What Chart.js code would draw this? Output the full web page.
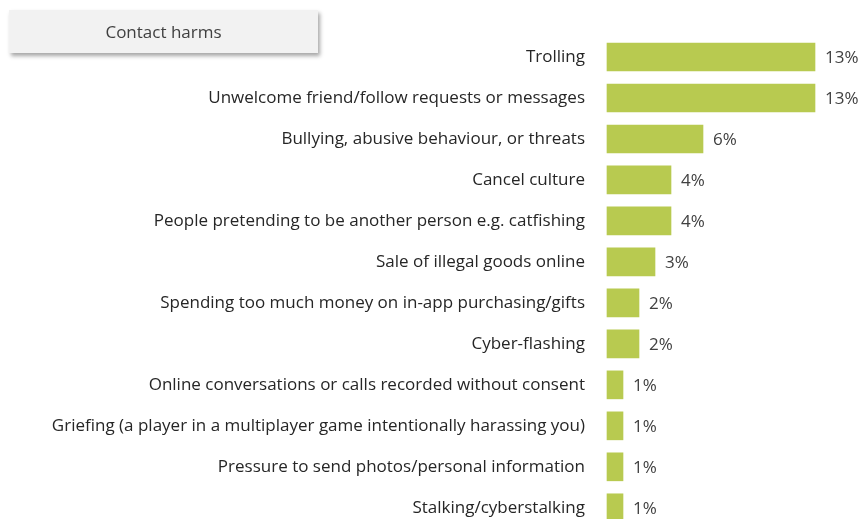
<!DOCTYPE html>
<html>
<head>
<meta charset="utf-8">
<script src="https://cdn.jsdelivr.net/npm/chart.js@4"></script>
<style>
  html, body { margin: 0; padding: 0; background: #fff; overflow: hidden; }
  #wrap { position: relative; width: 863px; height: 519px; overflow: hidden; }
  #tag {
    position: absolute; left: 9px; top: 10px; width: 309px; height: 43px;
    background: #f2f2f2; box-shadow: 2px 3px 4px rgba(0,0,0,0.35);
    font-family: 'Open Sans', sans-serif; font-size: 17px; color: #404040;
    display: flex; align-items: center; justify-content: center; z-index: 2;
  }
</style>
</head>
<body>
<div id="wrap">
  <div id="tag">Contact harms</div>
  <canvas id="chart" width="863" height="532"></canvas>
</div>
<script>
const categories = [
    'Trolling',
    'Unwelcome friend/follow requests or messages',
    'Bullying, abusive behaviour, or threats',
    'Cancel culture',
    'People pretending to be another person e.g. catfishing',
    'Sale of illegal goods online',
    'Spending too much money on in-app purchasing/gifts',
    'Cyber-flashing',
    'Online conversations or calls recorded without consent',
    'Griefing (a player in a multiplayer game intentionally harassing you)',
    'Pressure to send photos/personal information',
    'Stalking/cyberstalking'
];
const values = [13, 13, 6, 4, 4, 3, 2, 2, 1, 1, 1, 1];
const valueLabels = ['13%', '13%', '6%', '4%', '4%', '3%', '2%', '2%', '1%', '1%', '1%', '1%'];

const fontFamily = "'Open Sans', sans-serif";

// draws the % next to every bar
const valueLabelPlugin = {
    id: 'valueLabels',
    afterDatasetsDraw(chart) {
        const ctx = chart.ctx;
        const meta = chart.getDatasetMeta(0);
        ctx.save();
        ctx.font = '17px ' + fontFamily;
        ctx.fillStyle = '#404040';
        ctx.textAlign = 'left';
        ctx.textBaseline = 'middle';
        meta.data.forEach(function (bar, i) {
            ctx.fillText(valueLabels[i], bar.x + 10, bar.y + 1);
        });
        ctx.restore();
    }
};

new Chart(document.getElementById('chart').getContext('2d'), {
    type: 'bar',
    data: {
        labels: categories,
        datasets: [{
            data: values,
            backgroundColor: '#b8ca50',
            barThickness: 28,
            clip: false
        }]
    },
    options: {
        indexAxis: 'y',
        responsive: false,
        animation: false,
        layout: { padding: { top: 57, bottom: 0, left: 0, right: 0 } },
        plugins: {
            legend: { display: false },
            tooltip: { enabled: false }
        },
        scales: {
            x: {
                display: false,
                min: 0,
                max: 16
            },
            y: {
                offset: false,
                grid: { display: false },
                border: { display: false },
                ticks: {
                    padding: 14,
                    color: '#262626',
                    font: { family: fontFamily, size: 17 }
                },
                afterFit: function (scale) {
                    scale.width = 607;
                }
            }
        }
    },
    plugins: [valueLabelPlugin]
});
</script>
</body>
</html>
